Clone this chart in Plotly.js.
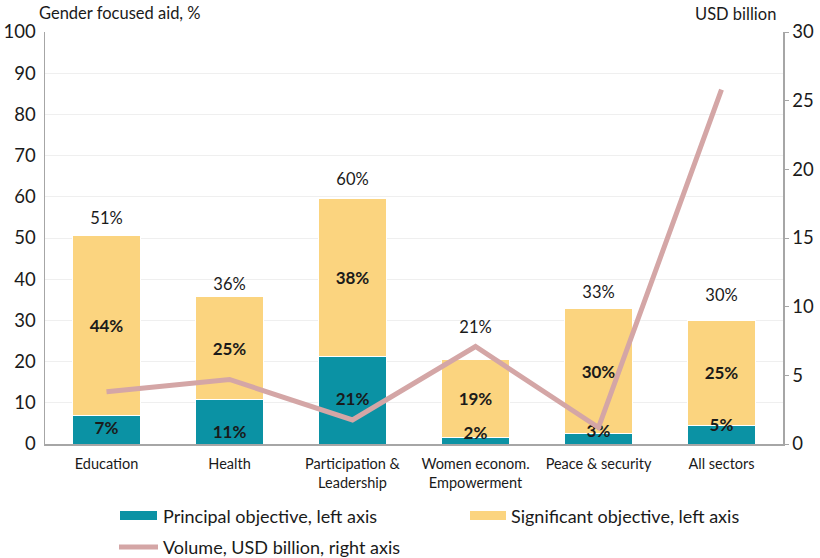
<!DOCTYPE html>
<html>
<head>
<meta charset="utf-8">
<script src="https://cdn.plot.ly/plotly-3.0.1.min.js"></script>
<style>
  html, body { margin: 0; padding: 0; background: #ffffff; }
  #chart { width: 820px; height: 558px; }
</style>
</head>
<body>
<div id="chart"></div>
<script>
// Sectors along the x axis
const sectors = ["Education", "Health", "Participation &<br>Leadership",
                 "Women econom.<br>Empowerment", "Peace & security", "All sectors"];

// Share of aid with gender equality as principal / significant objective, %
const principal   = [6.9, 10.9, 21.2, 1.7, 2.6, 4.6];
const significant = [43.7, 24.8, 38.4, 18.8, 30.2, 25.3];

// Volume of gender-focused aid, USD billion (right axis)
const volume = [3.8, 4.7, 1.75, 7.1, 1.2, 25.8];

// Label vertical anchors (in % units of the left axis)
const principalLabelAt = [3.4, 2.4, 10.4, 2.2, 2.7, 4.1];
const totalLabelAt     = [54.4, 38.3, 63.8, 27.9, 36.4, 35.7];

const TEAL = "#0b92a4";
const GOLD = "#fbd47f";
const ROSE = "#d4a6a6";
const FONT = "Lato, 'Open Sans', sans-serif";

const pct = v => Math.round(v) + "%";
const totals = principal.map((p, i) => p + significant[i]);

const traces = [
  {
    type: "bar", x: sectors, y: principal, name: "Principal objective, left axis",
    marker: { color: TEAL, line: { color: "#ffffff", width: 1 } },
    hoverinfo: "skip", showlegend: false
  },
  {
    type: "bar", x: sectors, y: significant, name: "Significant objective, left axis",
    marker: { color: GOLD, line: { color: "#ffffff", width: 1 } },
    text: significant.map(pct), textposition: "inside", insidetextanchor: "middle",
    textangle: 0, constraintext: "none",
    insidetextfont: { family: FONT, size: 17, color: "#1a1a1a", weight: "bold" },
    hoverinfo: "skip", showlegend: false
  },
  {
    type: "scatter", mode: "text", x: sectors, y: principalLabelAt,
    text: principal.map(pct),
    textfont: { family: FONT, size: 17, color: "#1a1a1a", weight: "bold" },
    hoverinfo: "skip", showlegend: false, cliponaxis: false
  },
  {
    type: "scatter", mode: "lines", x: sectors, y: volume, yaxis: "y2",
    name: "Volume, USD billion, right axis",
    line: { color: ROSE, width: 5 }, hoverinfo: "skip", showlegend: false
  },
  {
    type: "scatter", mode: "text", x: sectors, y: totalLabelAt,
    text: totals.map(pct),
    textfont: { family: FONT, size: 16.5, color: "#1a1a1a" },
    hoverinfo: "skip", showlegend: false, cliponaxis: false
  }
];

// Hand-built legend: symbols as shapes, labels as annotations (paper px → fractions)
const W = 820, H = 558;
const mL = 45, mR = 37, mT = 32, mB = 114;
const pw = W - mL - mR, ph = H - mT - mB;
const px = x => (x - mL) / pw;
const py = y => (H - mB - y) / ph;

const shapes = [
  { type: "rect", xref: "paper", yref: "paper", x0: px(120), x1: px(157), y0: py(520), y1: py(511),
    fillcolor: TEAL, line: { width: 0 } },
  { type: "rect", xref: "paper", yref: "paper", x0: px(470), x1: px(506), y0: py(520), y1: py(511),
    fillcolor: GOLD, line: { width: 0 } },
  { type: "line", xref: "paper", yref: "paper", x0: px(119), x1: px(158), y0: py(547), y1: py(547),
    line: { color: ROSE, width: 5 } }
];

const legendText = (x, y, t) => ({
  xref: "paper", yref: "paper", x: px(x), y: py(y), xanchor: "left", yanchor: "middle",
  text: t, showarrow: false, font: { family: FONT, size: 18, color: "#1a1a1a" }
});

const annotations = [
  { xref: "paper", yref: "paper", x: px(37), y: py(13), xanchor: "left", yanchor: "middle",
    text: "Gender focused aid, %", showarrow: false,
    font: { family: FONT, size: 16.5, color: "#1a1a1a" } },
  { xref: "paper", yref: "paper", x: px(778), y: py(14), xanchor: "right", yanchor: "middle",
    text: "USD billion", showarrow: false,
    font: { family: FONT, size: 16.5, color: "#1a1a1a" } },
  legendText(161, 516, "Principal objective, left axis"),
  legendText(509, 516, "Significant objective, left axis"),
  legendText(161, 547, "Volume, USD billion, right axis")
];

const layout = {
  width: W, height: H,
  margin: { l: mL, r: mR, t: mT, b: mB },
  paper_bgcolor: "#ffffff", plot_bgcolor: "#ffffff",
  barmode: "stack", bargap: 0.44,
  font: { family: FONT, color: "#1a1a1a" },
  xaxis: {
    showline: true, linecolor: "#a6a6a6", linewidth: 1.5, ticks: "",
    tickfont: { family: FONT, size: 14.5, color: "#1a1a1a" }, ticklabelstandoff: 6,
    fixedrange: true
  },
  yaxis: {
    range: [0, 100], dtick: 10, showline: true, linecolor: "#a6a6a6", linewidth: 1.5,
    ticks: "", gridcolor: "#efefef", gridwidth: 1, zeroline: false,
    tickfont: { family: FONT, size: 18.5, color: "#1a1a1a" }, ticklabelstandoff: 4
  },
  yaxis2: {
    overlaying: "y", side: "right", range: [0, 30], dtick: 5,
    showline: true, linecolor: "#a6a6a6", linewidth: 1.5, showgrid: false, zeroline: false,
    ticks: "outside", ticklen: 4, tickcolor: "#a6a6a6",
    tickfont: { family: FONT, size: 18.5, color: "#1a1a1a" }
  },
  shapes: shapes,
  annotations: annotations,
  showlegend: false
};

Plotly.newPlot("chart", traces, layout, { staticPlot: true });
</script>
</body>
</html>
